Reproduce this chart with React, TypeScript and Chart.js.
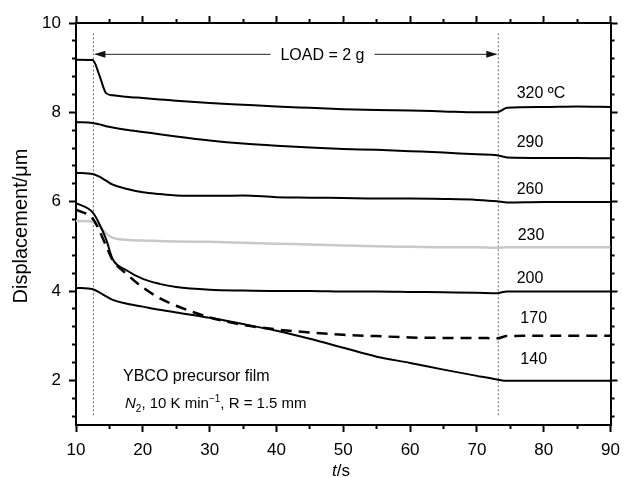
import React, { useEffect, useRef } from "react";
import { Chart, registerables } from "chart.js";
Chart.register(...registerables);

const FONT = '"Liberation Sans", Arial, Helvetica, sans-serif';

// ---- data ----
const timeS = [10, 12.5, 13.5, 14.5, 15.5, 17.5, 20, 22.5, 25, 30, 35, 40, 45, 50, 55, 60, 65, 70, 73, 74.5, 80, 85, 90];
const disp320 = [9.18, 9.17, 8.83, 8.43, 8.38, 8.35, 8.32, 8.29, 8.26, 8.21, 8.17, 8.13, 8.10, 8.07, 8.05, 8.04, 8.02, 8.0, 8.0, 8.10, 8.12, 8.13, 8.12];
const disp290 = [7.78, 7.76, 7.73, 7.69, 7.66, 7.61, 7.56, 7.51, 7.46, 7.37, 7.30, 7.25, 7.21, 7.18, 7.16, 7.13, 7.10, 7.06, 7.04, 6.99, 6.98, 6.98, 6.97];
const disp260 = [6.65, 6.62, 6.56, 6.47, 6.38, 6.29, 6.21, 6.17, 6.14, 6.13, 6.14, 6.10, 6.09, 6.08, 6.07, 6.07, 6.06, 6.04, 6.01, 5.98, 5.99, 5.99, 5.99];
const disp230 = [5.57, 5.55, 5.45, 5.29, 5.19, 5.15, 5.13, 5.12, 5.11, 5.10, 5.08, 5.06, 5.04, 5.02, 5.0, 4.99, 4.98, 4.98, 4.97, 4.98, 4.98, 4.98, 4.98];
const disp200 = [5.97, 5.76, 5.50, 5.16, 4.71, 4.47, 4.27, 4.16, 4.09, 4.03, 4.01, 4.0, 4.0, 3.99, 3.99, 3.98, 3.97, 3.96, 3.95, 3.99, 3.99, 3.99, 3.99];
const disp170 = [5.82, 5.62, 5.35, 5.01, 4.69, 4.39, 4.08, 3.84, 3.67, 3.41, 3.24, 3.14, 3.07, 3.02, 2.99, 2.96, 2.95, 2.95, 2.94, 2.99, 3.0, 3.0, 3.0];
const disp140 = [4.07, 4.04, 3.97, 3.88, 3.80, 3.72, 3.65, 3.58, 3.52, 3.40, 3.26, 3.11, 2.93, 2.73, 2.53, 2.39, 2.24, 2.10, 2.02, 1.99, 1.99, 1.99, 1.99];

const seriesLabels = ["320 ºC", "290", "260", "230", "200", "170", "140"];
const loadOnT = 12.6;
const loadOffT = 73.2;
const loadText = "LOAD = 2 g";

const xMajorTicks = [10, 20, 30, 40, 50, 60, 70, 80, 90];
const xMinorTicks = [15, 25, 35, 45, 55, 65, 75, 85];
const yMajorTicks = [2, 4, 6, 8, 10];
const yMinorTicks = [1.2, 1.6, 2.4, 2.8, 3.2, 3.6, 4.4, 4.8, 5.2, 5.6, 6.4, 6.8, 7.2, 7.6, 8.4, 8.8, 9.2, 9.6];

const X_MIN = 10, X_MAX = 90, Y_MIN = 1, Y_MAX = 10;

// label anchor positions (data coords)
const labelPos: [number, number][] = [
  [75.95, 8.43], [75.95, 7.32], [75.95, 6.26], [76.1, 5.23], [75.95, 4.28], [76.5, 3.39], [76.5, 2.46],
];

const mkAxis = (
  axisKey: "x" | "y",
  position: string,
  values: number[],
  tickLength: number,
  weight: number,
  size: number,
  showLabels: boolean,
  showBorder: boolean
) => ({
  type: "linear",
  axis: axisKey,
  position,
  min: axisKey === "x" ? X_MIN : Y_MIN,
  max: axisKey === "x" ? X_MAX : Y_MAX,
  weight,
  afterBuildTicks: (s: any) => {
    s.ticks = values.map((v) => ({ value: v }));
  },
  afterFit: (s: any) => {
    if (axisKey === "x") s.height = size;
    else s.width = size;
  },
  grid: {
    display: true,
    drawOnChartArea: false,
    drawTicks: true,
    tickLength,
    tickWidth: 2,
    tickColor: "#000",
  },
  border: { display: showBorder, color: "#000", width: 2 },
  ticks: {
    display: showLabels,
    color: "#000",
    font: { family: FONT, size: 17 },
    padding: 8,
    maxRotation: 0,
    autoSkip: false,
    callback: (v: any) => String(v),
  },
});

const drawArrowHead = (ctx: CanvasRenderingContext2D, x: number, y: number, dir: number) => {
  ctx.beginPath();
  ctx.moveTo(x, y);
  ctx.lineTo(x - dir * 11, y - 3.5);
  ctx.lineTo(x - dir * 11, y + 3.5);
  ctx.closePath();
  ctx.fill();
};

const overlayPlugin = {
  id: "overlay",
  afterDraw(chart: any) {
    const { ctx, scales } = chart;
    const X = (v: number) => scales.x.getPixelForValue(v);
    const Y = (v: number) => scales.y.getPixelForValue(v);
    ctx.save();
    ctx.fillStyle = "#000";

    // curve labels
    ctx.font = `16px ${FONT}`;
    ctx.textAlign = "left";
    ctx.textBaseline = "middle";
    seriesLabels.forEach((t, i) => ctx.fillText(t, X(labelPos[i][0]), Y(labelPos[i][1])));

    // LOAD arrow
    const ay = Y(9.31);
    ctx.font = `16px ${FONT}`;
    ctx.textBaseline = "alphabetic";
    const tx = X(40.6);
    const tw = ctx.measureText(loadText).width;
    ctx.fillText(loadText, tx, ay + 6);
    ctx.strokeStyle = "#222";
    ctx.fillStyle = "#111";
    ctx.lineWidth = 1;
    const x0 = X(loadOnT), x1 = X(loadOffT);
    ctx.beginPath();
    ctx.moveTo(x0 + 2, ay + 0.5);
    ctx.lineTo(tx - 10, ay + 0.5);
    ctx.moveTo(tx + tw + 10, ay + 0.5);
    ctx.lineTo(x1 - 2, ay + 0.5);
    ctx.stroke();
    drawArrowHead(ctx, x0 + 1, ay + 0.5, -1);
    drawArrowHead(ctx, x1 - 1, ay + 0.5, 1);

    // annotation text
    ctx.fillStyle = "#000";
    ctx.font = `16px ${FONT}`;
    ctx.fillText("YBCO precursor film", 123, 381);

    let cx = 125;
    const by = 408;
    ctx.font = `italic 15px ${FONT}`;
    ctx.fillText("N", cx, by);
    cx += ctx.measureText("N").width;
    ctx.font = `10px ${FONT}`;
    ctx.fillText("2", cx, by + 4);
    cx += ctx.measureText("2").width;
    ctx.font = `15px ${FONT}`;
    let s = ", 10 K min";
    ctx.fillText(s, cx, by);
    cx += ctx.measureText(s).width;
    ctx.font = `10px ${FONT}`;
    ctx.fillText("\u22121", cx, by - 6);
    cx += ctx.measureText("\u22121").width;
    ctx.font = `15px ${FONT}`;
    s = ", R = 1.5 mm";
    ctx.fillText(s, cx, by);

    // x title
    ctx.font = `italic 17px ${FONT}`;
    const tW = ctx.measureText("t").width;
    ctx.font = `17px ${FONT}`;
    const sW = ctx.measureText("/s").width;
    let xx = 341 - (tW + sW) / 2;
    ctx.font = `italic 17px ${FONT}`;
    ctx.fillText("t", xx, 476);
    ctx.font = `17px ${FONT}`;
    ctx.fillText("/s", xx + tW, 476);

    // y title
    ctx.save();
    ctx.translate(26.5, 226);
    ctx.rotate(-Math.PI / 2);
    ctx.textAlign = "center";
    ctx.textBaseline = "alphabetic";
    ctx.font = `20px ${FONT}`;
    ctx.fillText("Displacement/\u03bcm", 0, 0);
    ctx.restore();

    ctx.restore();
  },
};

const toPts = (ys: number[]) => timeS.map((t, i) => ({ x: t, y: ys[i] }));

export default function App() {
  const ref = useRef<HTMLCanvasElement | null>(null);
  useEffect(() => {
    if (!ref.current) return;
    const curves = [
      { d: disp320, c: "#000", w: 2, dash: [] as number[], order: 0 },
      { d: disp290, c: "#000", w: 2, dash: [], order: 0 },
      { d: disp260, c: "#000", w: 2, dash: [], order: 0 },
      { d: disp230, c: "#c8c8c8", w: 2.5, dash: [], order: 2 },
      { d: disp200, c: "#000", w: 2, dash: [], order: 0 },
      { d: disp170, c: "#000", w: 2.5, dash: [11, 7], order: 0 },
      { d: disp140, c: "#000", w: 2, dash: [], order: 0 },
    ];
    const datasets: any[] = curves.map((c, i) => ({
      label: seriesLabels[i],
      data: toPts(c.d),
      borderColor: c.c,
      borderWidth: c.w,
      borderDash: c.dash,
      pointRadius: 0,
      fill: false,
      cubicInterpolationMode: "monotone",
      order: c.order,
    }));
    [loadOnT, loadOffT].forEach((t) =>
      datasets.push({
        label: "load" + t,
        data: [
          { x: t, y: 9.77 },
          { x: t, y: 1.18 },
        ],
        borderColor: "#666",
        borderWidth: 1,
        borderDash: [2, 2],
        pointRadius: 0,
        fill: false,
        order: 3,
      })
    );

    const chart = new Chart(ref.current, {
      type: "line",
      data: { datasets },
      options: {
        animation: false,
        responsive: false,
        maintainAspectRatio: false,
        devicePixelRatio: 1,
        layout: { padding: { left: 0, top: 15, right: 3, bottom: 0 } },
        plugins: { legend: { display: false }, tooltip: { enabled: false } },
        scales: {
          x: mkAxis("x", "bottom", xMajorTicks, 7, 1, 53, true, true),
          xMinor: mkAxis("x", "bottom", xMinorTicks, 4, 0, 0, false, false),
          xTop: mkAxis("x", "top", xMajorTicks, 7, 1, 8, false, true),
          xTopMinor: mkAxis("x", "top", xMinorTicks, 4, 0, 0, false, false),
          y: mkAxis("y", "left", yMajorTicks, 7, 1, 76, true, true),
          yMinor: mkAxis("y", "left", yMinorTicks, 4, 0, 0, false, false),
          yRight: mkAxis("y", "right", yMajorTicks, 7, 1, 8, false, true),
          yRightMinor: mkAxis("y", "right", yMinorTicks, 4, 0, 0, false, false),
        } as any,
      },
      plugins: [overlayPlugin],
    });
    return () => chart.destroy();
  }, []);
  return (
    <div style={{ position: "absolute", left: 0, top: 0, width: 628, height: 478, background: "#fff" }}>
      <canvas ref={ref} width={628} height={478} style={{ display: "block" }} />
    </div>
  );
}
